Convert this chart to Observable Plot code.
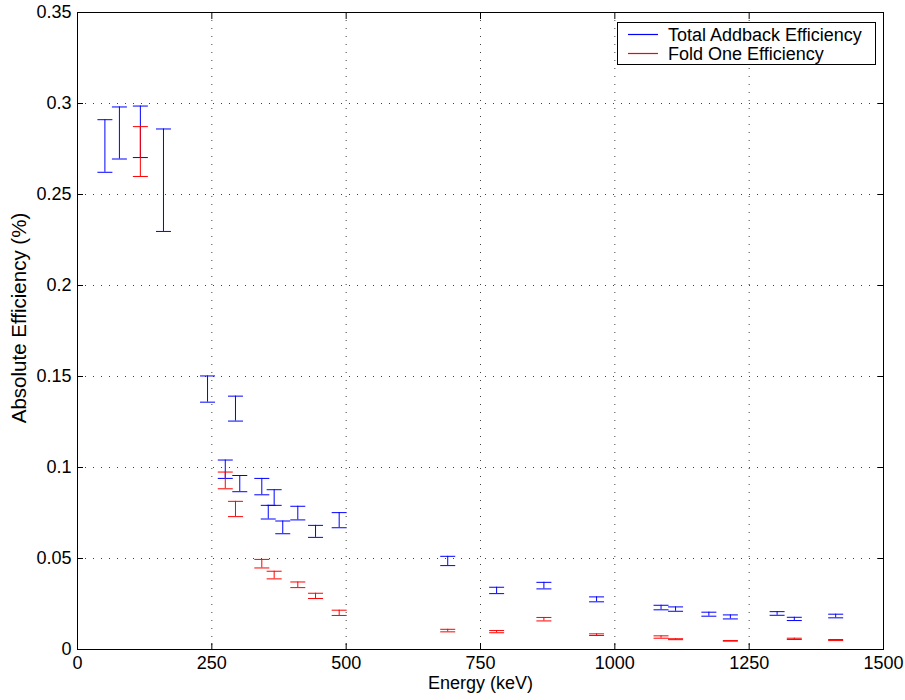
<!DOCTYPE html>
<html>
<head>
<meta charset="utf-8">
<script src="https://cdn.jsdelivr.net/npm/d3@7"></script>
<script src="https://cdn.jsdelivr.net/npm/@observablehq/plot@0.6"></script>
<style>
  body { margin: 0; background: #fff; }
  #wrap { position: relative; width: 905px; height: 700px; font-family: "Liberation Sans", Arial, Helvetica, sans-serif; }
  #legend { position: absolute; left: 0; top: 0; pointer-events: none; }
</style>
</head>
<body>
<div id="wrap">
  <div id="chart"></div>
  <svg id="legend" width="905" height="80"></svg>
</div>
<script>
// ---- Data ----
const addbackEnergy = [51, 78, 117, 160, 242, 275, 294, 302, 343, 355, 366, 382, 410, 443, 487, 689, 780, 868, 966, 1086, 1113, 1175, 1215, 1302, 1334, 1411];
const addbackLow  = [0.2622, 0.2695, 0.2703, 0.2297, 0.1359, 0.0940, 0.1255, 0.0867, 0.0850, 0.0717, 0.0792, 0.0636, 0.0712, 0.0616, 0.0669, 0.0461, 0.0307, 0.0333, 0.0262, 0.0218, 0.0210, 0.0183, 0.0168, 0.0188, 0.0159, 0.0174];
const addbackHigh = [0.2911, 0.2981, 0.2986, 0.2860, 0.1503, 0.1041, 0.1392, 0.0956, 0.0940, 0.0792, 0.0878, 0.0706, 0.0787, 0.0682, 0.0752, 0.0512, 0.0342, 0.0369, 0.0289, 0.0243, 0.0234, 0.0205, 0.0190, 0.0208, 0.0177, 0.0194];

const foldOneEnergy = [117, 275, 294, 343, 366, 410, 443, 487, 689, 780, 868, 966, 1086, 1113, 1215, 1334, 1411];
const foldOneLow  = [0.2599, 0.0883, 0.0730, 0.0448, 0.0388, 0.0340, 0.0280, 0.0187, 0.0097, 0.0092, 0.0157, 0.0077, 0.0062, 0.0054, 0.0046, 0.0055, 0.0049];
const foldOneHigh = [0.2873, 0.0975, 0.0814, 0.0495, 0.0430, 0.0371, 0.0309, 0.0216, 0.0111, 0.0104, 0.0176, 0.0086, 0.0075, 0.0059, 0.0049, 0.0062, 0.0055];

const seriesNames = ["Total Addback Efficiency", "Fold One Efficiency"];
const seriesColors = ["#0000ff", "#ff0000"];

const xTicks = [0, 250, 500, 750, 1000, 1250, 1500];
const yTicks = [0, 0.05, 0.1, 0.15, 0.2, 0.25, 0.3, 0.35];
const xLabel = "Energy (keV)";
const yLabel = "Absolute Efficiency (%)";

// ---- Build tables ----
const addback = addbackEnergy.map((e, i) => ({energy: e, lo: addbackLow[i], hi: addbackHigh[i]}));
const foldOne = foldOneEnergy.map((e, i) => ({energy: e, lo: foldOneLow[i], hi: foldOneHigh[i]}));

// horizontal-line symbol for error bar caps
const hline = {
  draw(context, size) {
    const r = Math.sqrt(size / Math.PI);
    context.moveTo(-r, 0);
    context.lineTo(r, 0);
  }
};

function errorBars(data, color) {
  return [
    Plot.ruleX(data, {x: "energy", y1: "lo", y2: "hi", stroke: color, strokeWidth: 1}),
    Plot.dot(data, {x: "energy", y: "lo", symbol: hline, r: 7.5, stroke: color, fill: "none", strokeWidth: 1}),
    Plot.dot(data, {x: "energy", y: "hi", symbol: hline, r: 7.5, stroke: color, fill: "none", strokeWidth: 1})
  ];
}

const gridStyle = {stroke: "#000", strokeOpacity: 0.75, strokeDasharray: "1,7", strokeWidth: 1};
const fontFamily = "Liberation Sans, Arial, Helvetica, sans-serif";

const chart = Plot.plot({
  width: 905,
  height: 700,
  marginLeft: 77,
  marginRight: 22,
  marginTop: 12,
  marginBottom: 51,
  style: {fontFamily, fontSize: "18px", background: "#fff", color: "#000"},
  x: {domain: [0, 1500]},
  y: {domain: [0, 0.35]},
  marks: [
    Plot.gridX(xTicks.slice(1, -1), gridStyle),
    Plot.gridY(yTicks.slice(1, -1), gridStyle),
    // inward ticks on all four sides
    Plot.axisX(xTicks, {anchor: "bottom", tickSize: -6, tickFormat: () => "", label: null}),
    Plot.axisX(xTicks, {anchor: "top", tickSize: -6, tickFormat: () => "", label: null}),
    Plot.axisY(yTicks, {anchor: "left", tickSize: -6, tickFormat: () => "", label: null}),
    Plot.axisY(yTicks, {anchor: "right", tickSize: -6, tickFormat: () => "", label: null}),
    // tick labels
    Plot.axisX(xTicks, {anchor: "bottom", tickSize: 0, tickPadding: 7, tickFormat: d => String(d), label: null, fontSize: 18}),
    Plot.axisY(yTicks, {anchor: "left", tickSize: 0, tickPadding: 6, tickFormat: d => String(d), label: null, fontSize: 18}),
    // axis titles
    Plot.text([xLabel], {text: d => d, frameAnchor: "bottom", textAnchor: "middle", dy: 39, fontSize: 18}),
    Plot.text([yLabel], {text: d => d, frameAnchor: "left", textAnchor: "middle", rotate: -90, dx: -58, dy: -13, fontSize: 20.5}),
    ...errorBars(addback, seriesColors[0]),
    ...errorBars(foldOne, seriesColors[1]),
    Plot.frame({stroke: "#000", strokeWidth: 1})
  ]
});
document.getElementById("chart").appendChild(chart);

// ---- Legend (overlay) ----
const lg = d3.select("#legend");
lg.append("rect").attr("x", 617.5).attr("y", 22.5).attr("width", 258).attr("height", 42)
  .attr("fill", "#fff").attr("stroke", "#000").attr("stroke-width", 1);
seriesNames.forEach((name, i) => {
  const cy = 34.5 + i * 19;
  lg.append("line").attr("x1", 628).attr("x2", 658).attr("y1", cy).attr("y2", cy)
    .attr("stroke", seriesColors[i]).attr("stroke-width", 1.2);
  lg.append("text").attr("x", 668).attr("y", cy + 6).attr("font-family", fontFamily)
    .attr("font-size", 18).attr("fill", "#000").text(name);
});
</script>
</body>
</html>
